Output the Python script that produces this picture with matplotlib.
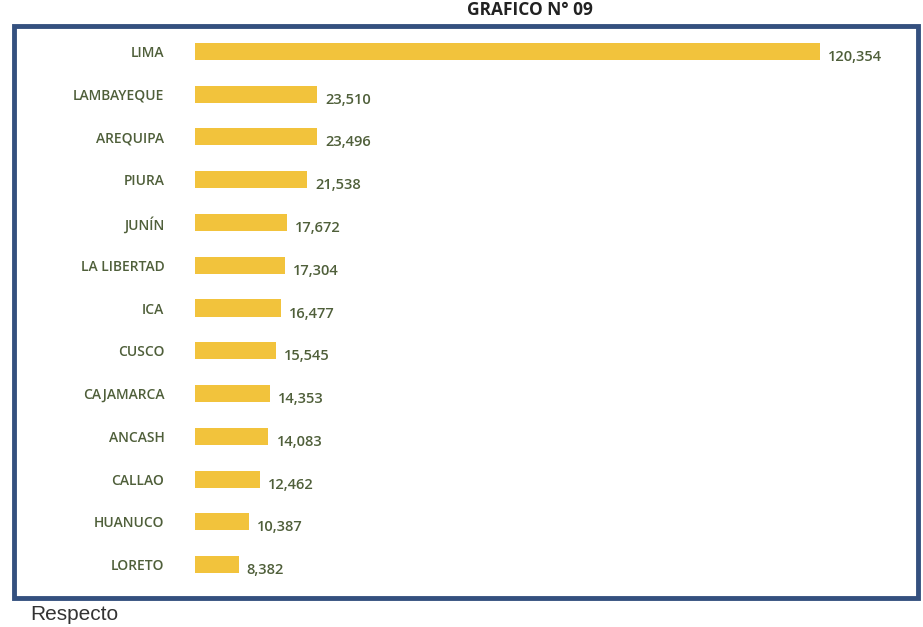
import matplotlib
matplotlib.use("Agg")
import matplotlib.pyplot as plt
from matplotlib.patches import Rectangle

regions = ["LIMA", "LAMBAYEQUE", "AREQUIPA", "PIURA", "JUNÍN", "LA LIBERTAD", "ICA",
           "CUSCO", "CAJAMARCA", "ANCASH", "CALLAO", "HUANUCO", "LORETO"]
values = [120354, 23510, 23496, 21538, 17672, 17304, 16477, 15545, 14353, 14083,
          12462, 10387, 8382]
title = "GRAFICO N° 09"

W, H = 923, 627
fig = plt.figure(figsize=(W / 100, H / 100), dpi=100)
fig.patch.set_facecolor("white")

text_color = "#4f5f3a"
bar_color = "#f2c33c"
border_color = "#34507f"

# outer box
fig.patches.append(Rectangle((14 / W, 1 - 598 / H), (918 - 14) / W, (598 - 26) / H,
                             transform=fig.transFigure, fill=False,
                             edgecolor=border_color, linewidth=3.5, zorder=0))

ax = fig.add_axes([195 / W, 1 - 586 / H, (905 - 195) / W, (586 - 30) / H])
ypos = list(range(len(regions)))
ax.barh(ypos, values, height=0.4, color=bar_color)
ax.set_ylim(len(regions) - 0.5, -0.5)
ax.set_xlim(0, 120354 * (905 - 195) / (820 - 195))
for s in ax.spines.values():
    s.set_visible(False)
ax.set_xticks([])
ax.set_yticks(ypos)
ax.set_yticklabels(regions, fontsize=10, color=text_color, fontfamily="Open Sans",
                   fontweight="semibold")
ax.tick_params(axis="y", length=0, pad=22)
for y, v in zip(ypos, values):
    ax.annotate(f"{v:,}", (v, y), xytext=(6, -4), textcoords="offset points",
                ha="left", va="center", fontsize=10.5, color=text_color,
                fontfamily="Open Sans", fontweight="semibold")

fig.text(530 / W, 1 - 10 / H, title, ha="center", va="center", fontsize=12.5,
         fontweight="bold", color="#222222", fontfamily="Open Sans")
fig.text(30 / W, 1 - 614 / H, "Respecto", ha="left", va="center", fontsize=15,
         color="#333333", fontfamily="Liberation Sans")

fig.savefig("out.png", dpi=100)
